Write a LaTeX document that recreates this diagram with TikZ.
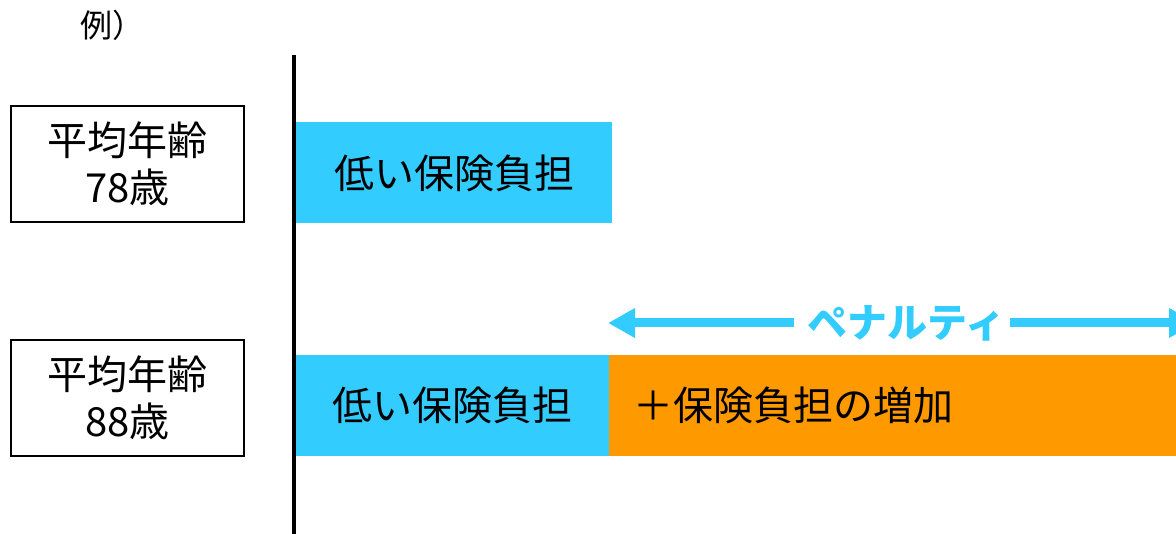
\documentclass[tikz,border=0pt]{standalone}
\usepackage{fontspec}
\setmainfont{Noto Sans CJK JP}
\usetikzlibrary{arrows.meta}
\definecolor{hblue}{HTML}{33CCFF}
\definecolor{horange}{HTML}{FF9900}
\tikzset{>={Triangle[length=27pt,width=28pt]}}

\begin{document}
\begin{tikzpicture}[x=1pt,y=-1pt,font=\fontsize{40pt}{47pt}\selectfont]
\tikzstyle{a}=[draw,line width=2pt,minimum width=233pt,minimum height=116pt,align=center,inner sep=0]
\tikzstyle{l}=[fill=hblue,inner sep=0,minimum height=101pt]
\tikzstyle{o}=[fill=horange,inner ysep=0,inner xsep=24pt,text width=519pt,align=left,minimum height=101pt]
\tikzstyle{p}=[text=hblue,inner sep=0,font=\fontsize{40pt}{47pt}\selectfont\bfseries]
    \useasboundingbox (0,0) rectangle (1176,534);

    \node[font=\fontsize{32pt}{38pt}\selectfont] (ex) at (112,25){例）};
    \node[a] (1) at (127.5,164){平均年齢\\78歳};
    \node[a] (2) at (127.5,398){平均年齢\\88歳};

    \node[l, minimum width=316pt] (3) at (454,173){低い保険負担};
    \node[l, minimum width=313pt] (4) at (452.5,405.5){低い保険負担};
    \node[o, anchor=west] (5) at (609,405.5){＋保険負担の増加};

    \node[p] (6) at (906.5,323){ペナルティ};
    \coordinate (pl) at (608,323);
    \coordinate (pr) at (1196,323);

    \coordinate (t) at (294,55);
    \coordinate (u) at (294,534);
    \draw[line width=4pt] (t) -- (u);

    \draw[->][line width=9pt,draw=hblue,fill=hblue,shorten <=14pt] (6.west) -- (pl);
    \draw[->][line width=9pt,draw=hblue,fill=hblue,shorten <=4pt] (6.east) -- (pr);

\end{tikzpicture}
\end{document}
